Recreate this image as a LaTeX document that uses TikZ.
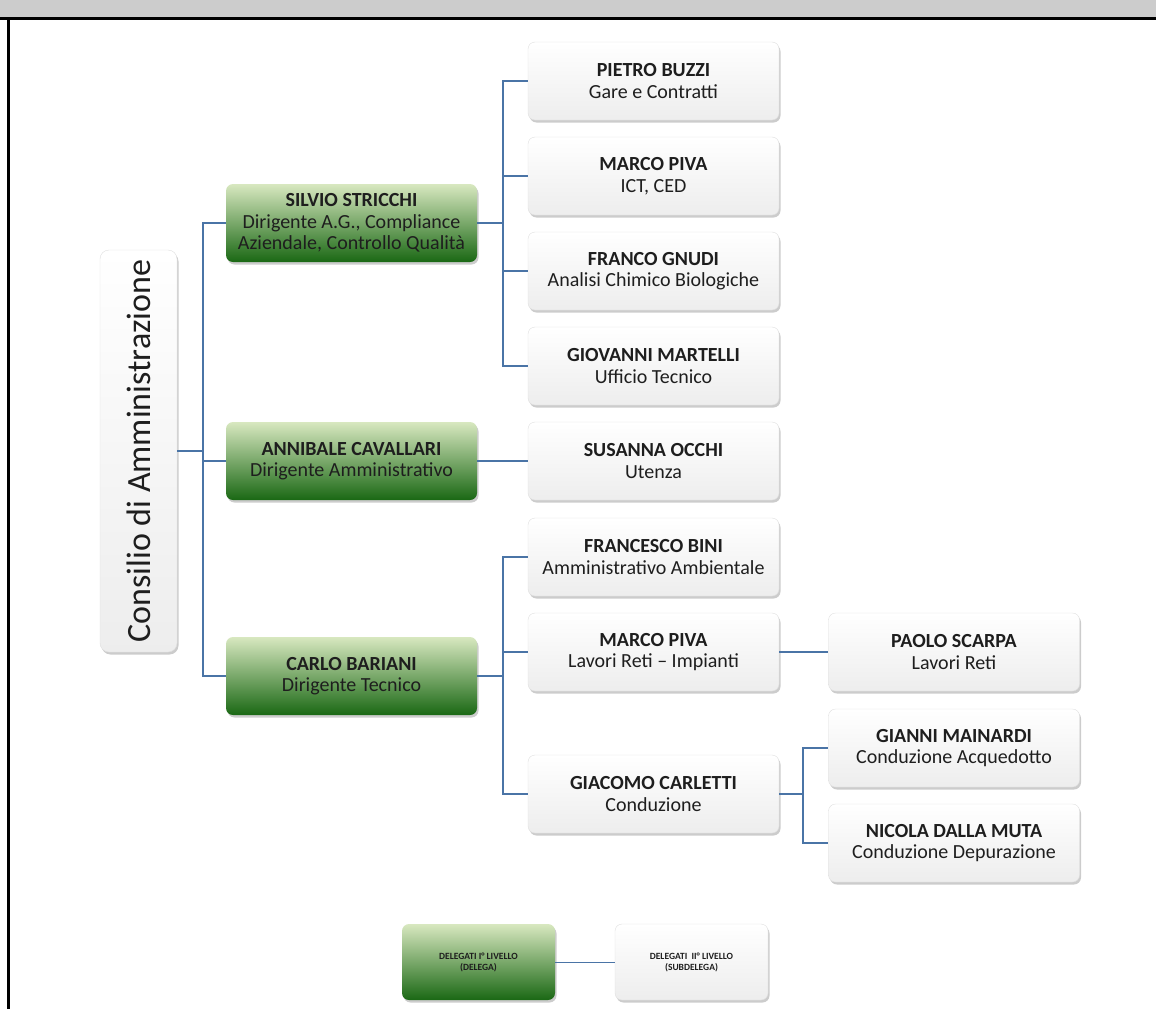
\documentclass[tikz,border=0pt]{standalone}
\usepackage{fontspec}
\setmainfont{Carlito}
\usetikzlibrary{shadows}
\definecolor{linkblue}{RGB}{74,116,166}
\definecolor{greentop}{RGB}{216,232,192}
\definecolor{greenbot}{RGB}{26,104,20}
\definecolor{textgray}{RGB}{30,30,30}
\tikzset{
  boxbase/.style={rounded corners=7pt, minimum width=251pt, minimum height=78pt,
    align=center, text=textgray, font=\fontsize{20}{21.5}\selectfont,
    drop shadow={shadow xshift=1.5pt, shadow yshift=-2.5pt, opacity=0.4, fill=gray}},
  delega/.style={boxbase, top color=greentop, bottom color=greenbot},
  subdelega/.style={boxbase, top color=white, bottom color=gray!14, draw=gray!25, line width=0.4pt},
  legendbox/.style={minimum width=153pt, minimum height=76pt, font=\fontsize{9.5}{11}\selectfont\bfseries},
  link/.style={draw=linkblue, line width=1.6pt},
}
\begin{document}
\begin{tikzpicture}[x=1pt,y=-1pt]
\useasboundingbox (0,0) rectangle (1156,1009);
% header band and frame
\fill[gray!40] (0,0) rectangle (1156,18);
\draw[line width=3pt] (0,18.5) -- (1156,18.5);
\draw[line width=2.5pt] (8.5,18) -- (8.5,1009);

% consiglio
\node[subdelega, minimum width=77pt, minimum height=402pt, rounded corners=9pt] (cda) at (138.5,451) {};
\node[rotate=90, text=textgray, font=\fontsize{34}{40}\selectfont] (cdatext) at (cda) {Consilio di Amministrazione};

% primo livello
\node[delega] (stricchi) at (351.5,223) {\textbf{SILVIO STRICCHI}\\Dirigente A.G., Compliance\\Aziendale, Controllo Qualità};
\node[delega] (cavallari) at (351.5,461) {\textbf{ANNIBALE CAVALLARI}\\Dirigente Amministrativo};
\node[delega] (bariani) at (351.5,676) {\textbf{CARLO BARIANI}\\Dirigente Tecnico};

% secondo livello
\node[subdelega] (buzzi) at (653.5,81) {\textbf{PIETRO BUZZI}\\Gare e Contratti};
\node[subdelega] (pivaict) at (653.5,176) {\textbf{MARCO PIVA}\\ICT, CED};
\node[subdelega] (gnudi) at (653.5,271) {\textbf{FRANCO GNUDI}\\Analisi Chimico Biologiche};
\node[subdelega] (martelli) at (653.5,366) {\textbf{GIOVANNI MARTELLI}\\Ufficio Tecnico};
\node[subdelega] (occhi) at (653.5,461) {\textbf{SUSANNA OCCHI}\\Utenza};
\node[subdelega] (bini) at (653.5,557) {\textbf{FRANCESCO BINI}\\Amministrativo Ambientale};
\node[subdelega] (pivareti) at (653.5,652) {\textbf{MARCO PIVA}\\Lavori Reti -- Impianti};
\node[subdelega] (carletti) at (653.5,794) {\textbf{GIACOMO CARLETTI}\\Conduzione};

% terzo livello
\node[subdelega] (scarpa) at (954,652) {\textbf{PAOLO SCARPA}\\Lavori Reti};
\node[subdelega] (mainardi) at (954,748) {\textbf{GIANNI MAINARDI}\\Conduzione Acquedotto};
\node[subdelega] (dallamuta) at (954,843) {\textbf{NICOLA DALLA MUTA}\\Conduzione Depurazione};

% legenda
\node[delega, legendbox] (lega) at (478.5,962) {DELEGATI I° LIVELLO\\(DELEGA)};
\node[subdelega, legendbox] (sublega) at (691.5,962) {DELEGATI~~II° LIVELLO\\(SUBDELEGA)};

% collegamenti
\foreach \n in {stricchi,cavallari,bariani}
  \draw[link] (cda.east) -- ++(26,0) |- (\n.west);
\foreach \n in {buzzi,pivaict,gnudi,martelli}
  \draw[link] (stricchi.east) -- ++(26,0) |- (\n.west);
\draw[link] (cavallari.east) -- (occhi.west);
\foreach \n in {bini,pivareti,carletti}
  \draw[link] (bariani.east) -- ++(26,0) |- (\n.west);
\draw[link] (pivareti.east) -- (scarpa.west);
\foreach \n in {mainardi,dallamuta}
  \draw[link] (carletti.east) -- ++(24,0) |- (\n.west);
\draw[link, line width=0.8pt] (lega.east) -- (sublega.west);
\end{tikzpicture}
\end{document}
